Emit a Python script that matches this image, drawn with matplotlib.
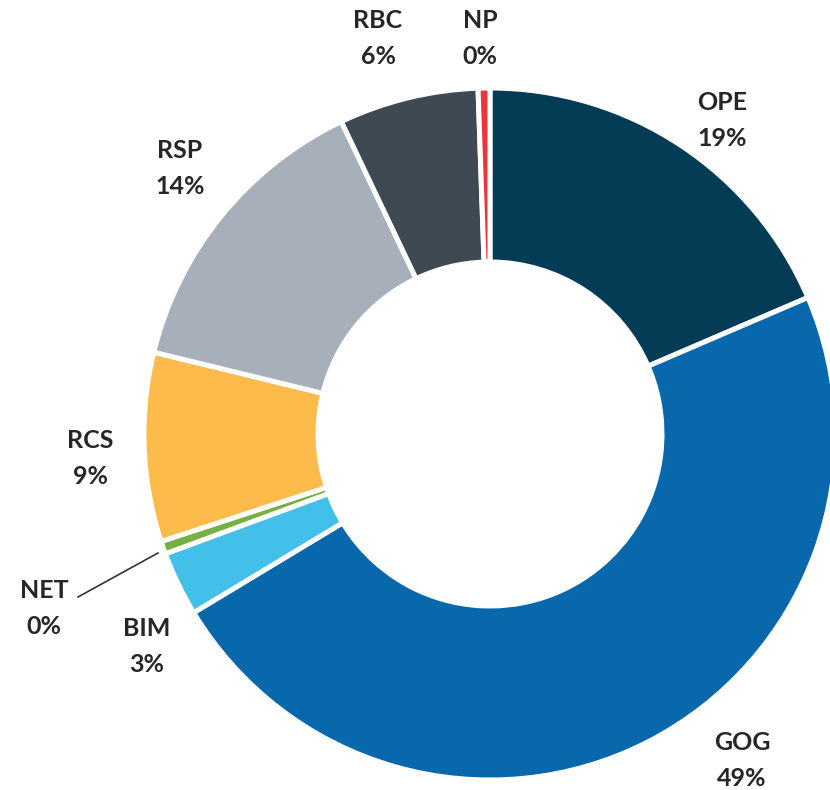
import matplotlib
matplotlib.use("Agg")
import matplotlib.pyplot as plt

# data (start at 12 o'clock, clockwise)
names = ["OPE", "GOG", "BIM", "NET", "RCS", "RSP", "RBC", "NP"]
values = [18.5, 47.7, 3.0, 0.6, 8.8, 14.1, 6.5, 0.55]
pct_labels = ["19%", "49%", "3%", "0%", "9%", "14%", "6%", "0%"]
colors = ["#053c55", "#0868ab", "#43c0e9", "#76b043", "#fdbb4c",
          "#a7b0ba", "#3e4954", "#e8363c"]

# label positions in pixels (x, y of name line)
label_pos = {"OPE": (722, 102), "GOG": (742, 742), "BIM": (147, 628),
             "NET": (44, 590), "RCS": (90, 440), "RSP": (180, 150),
             "RBC": (378, 20), "NP": (480, 20)}

W, H = 830, 790
fig = plt.figure(figsize=(W / 100, H / 100), dpi=100)
ax = fig.add_axes([0, 0, 1, 1])

cx, cy, R = 490, H - 434, 346
ax.pie(values, colors=colors, startangle=90, counterclock=False,
       center=(cx, cy), radius=R, frame=True,
       wedgeprops=dict(width=R - 172, edgecolor="white", linewidth=3.6))
ax.set_xlim(0, W)
ax.set_ylim(0, H)
ax.set_aspect("equal")
ax.axis("off")

for n, p in zip(names, pct_labels):
    x, y = label_pos[n]
    ax.text(x, H - y, n, ha="center", va="center", fontsize=18,
            fontweight="bold", family="Lato", color="#262626")
    ax.text(x, H - y - 37, p, ha="center", va="center", fontsize=18,
            fontweight="bold", family="Lato", color="#262626")

# leader line for NET
ax.plot([78, 158], [H - 597, H - 553], color="#333333", lw=1.2)

fig.savefig("out.png", dpi=100)
